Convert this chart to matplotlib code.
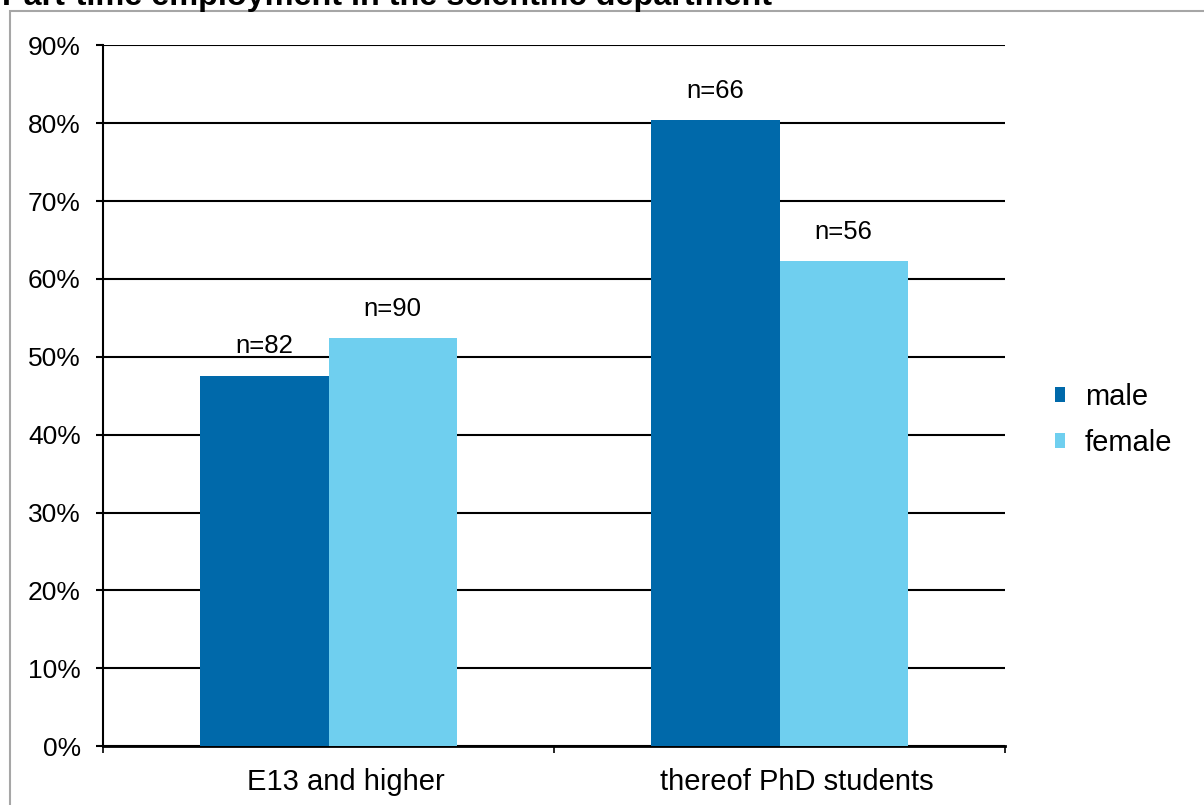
import matplotlib
matplotlib.use("Agg")
import matplotlib.pyplot as plt
from matplotlib.patches import Patch, Rectangle
from matplotlib.transforms import ScaledTranslation
import numpy as np

plt.rcParams['font.family'] = ['Liberation Sans', 'DejaVu Sans']

# Data
categories = ["E13 and higher", "thereof PhD students"]
series_names = ["male", "female"]
male_share = [47.6, 80.4]
female_share = [52.4, 62.3]
male_n = ["n=82", "n=66"]
female_n = ["n=90", "n=56"]
y_ticks = [0, 10, 20, 30, 40, 50, 60, 70, 80, 90]
title = "Part-time employment in the scientific department"

male_color = "#0069AA"
female_color = "#6FCFEF"

W, H = 1204, 805
fig = plt.figure(figsize=(W / 100, H / 100), dpi=100)
fig.patch.set_facecolor("white")

# outer chart frame (extends beyond the visible canvas on right/bottom)
frame = Rectangle((10 / W, -0.2), 1.3, 1 - 10.7 / H + 0.2, transform=fig.transFigure,
                  fill=False, edgecolor="#A6A6A6", linewidth=1.5, clip_on=False)
fig.patches.append(frame)

fig.text(2 / W, 1 - 5 / H, title, fontsize=23.3, fontweight="bold", va="baseline", ha="left")

ax = fig.add_axes([103 / W, 1 - 746 / H, (1005 - 103) / W, (746 - 45.5) / H])

x = np.arange(len(categories))
bw = 0.284
bars_m = ax.bar(x - bw / 2, male_share, width=bw, color=male_color, zorder=3)
bars_f = ax.bar(x + bw / 2, female_share, width=bw, color=female_color, zorder=3)

for bars, labels, vals in ((bars_m, male_n, male_share), (bars_f, female_n, female_share)):
    for b, lab, v in zip(bars, labels, vals):
        ax.annotate(lab, (b.get_x() + b.get_width() / 2, v), xytext=(0, 21),
                    textcoords="offset points", ha="center", va="center", fontsize=18.5)

ax.set_xlim(-0.5, len(categories) - 0.5)
ax.set_ylim(0, 90)
ax.set_yticks(y_ticks)
ax.set_yticklabels([f"{t}%" for t in y_ticks])
ax.yaxis.grid(True, color="black", linewidth=1.5, zorder=0)
ax.set_axisbelow(True)

ax.set_xticks(np.arange(len(categories) + 1) - 0.5)
ax.set_xticklabels([])
ax.set_xticks(x, minor=True)
ax.set_xticklabels(categories, minor=True)
ax.tick_params(axis="x", which="major", length=5, width=1.2, color="black", direction="out")
ax.tick_params(axis="x", which="minor", length=0, labelsize=21, pad=15.5)
ax.tick_params(axis="y", length=5, width=1.5, color="black", labelsize=19, pad=11)

shift = ScaledTranslation(17 / 100, 0, fig.dpi_scale_trans)
for lbl in ax.get_xticklabels(minor=True):
    lbl.set_transform(lbl.get_transform() + shift)

for s in ("top", "right"):
    ax.spines[s].set_visible(False)
ax.spines["left"].set_linewidth(1.5)
ax.spines["bottom"].set_linewidth(2)

handles = [Patch(facecolor=male_color), Patch(facecolor=female_color)]
ax.legend(handles, series_names, loc="center left", bbox_to_anchor=(1055 / W, 1 - 420 / H),
          bbox_transform=fig.transFigure, frameon=False, fontsize=21, borderpad=0,
          borderaxespad=0, handlelength=0.34, handleheight=0.42, handletextpad=0.68,
          labelspacing=0.62)

fig.savefig("out.png", dpi=100)
